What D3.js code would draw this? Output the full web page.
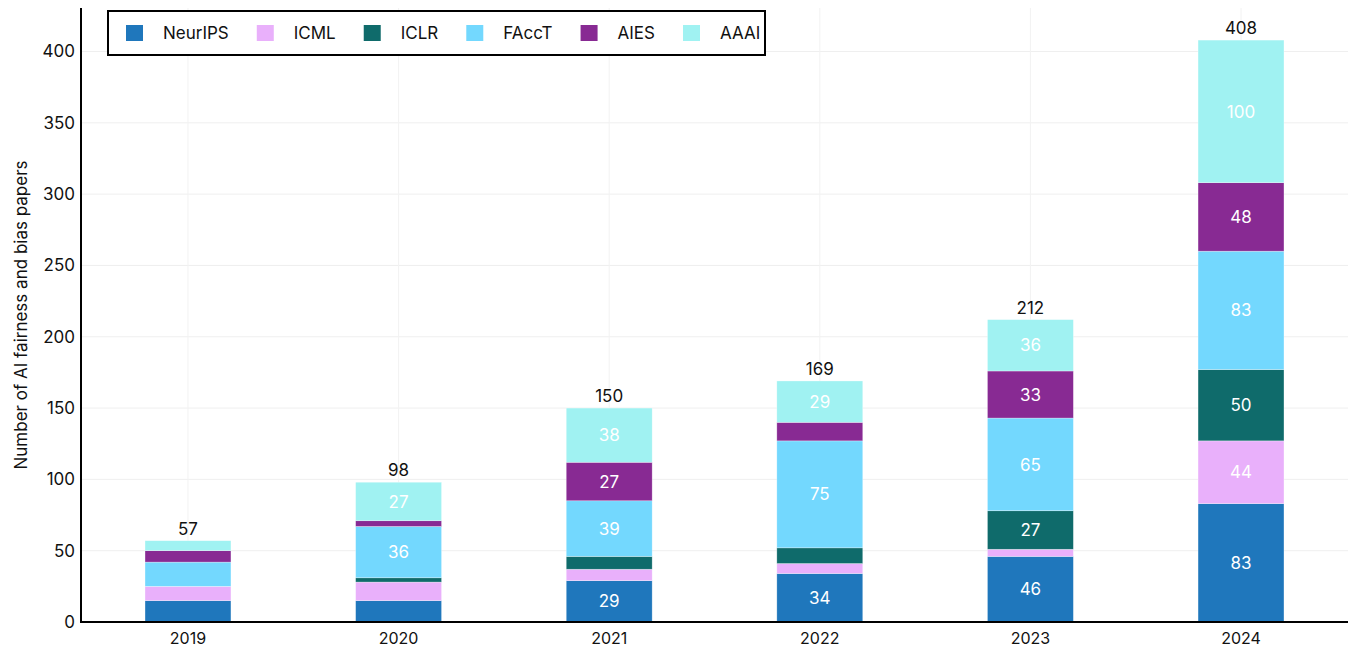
<!DOCTYPE html>
<html>
<head>
<meta charset="utf-8">
<script src="https://cdn.jsdelivr.net/npm/d3@7"></script>
<style>
  html, body { margin: 0; padding: 0; background: #fff; }
  svg { display: block; font-family: Inter, "Liberation Sans", sans-serif; }
</style>
</head>
<body>
<svg id="chart" width="1351" height="651"></svg>
<script>
// Papers on AI fairness and bias, by venue and year
const years = ["2019", "2020", "2021", "2022", "2023", "2024"];
const venues = ["NeurIPS", "ICML", "ICLR", "FAccT", "AIES", "AAAI"];
const neurips = [15, 15, 29, 34, 46, 83];
const icml    = [10, 13, 8, 7, 5, 44];
const iclr    = [0, 3, 9, 11, 27, 50];
const facct   = [17, 36, 39, 75, 65, 83];
const aies    = [8, 4, 27, 13, 33, 48];
const aaai    = [7, 27, 38, 29, 36, 100];
const yTicks  = [0, 50, 100, 150, 200, 250, 300, 350, 400];
const colors  = ["#1f77bc", "#e9b0fb", "#0f6b6b", "#73d8fe", "#882a93", "#a0f2f2"];

const seriesValues = [neurips, icml, iclr, facct, aies, aaai];
const rows = years.map((yr, i) => {
  const r = { year: yr };
  venues.forEach((v, j) => { r[v] = seriesValues[j][i]; });
  return r;
});
const totals = years.map((yr, i) => d3.sum(seriesValues, s => s[i]));

const svg = d3.select("#chart");
const plotL = 81, plotR = 1348, plotT = 8, plotB = 622;

const x = d3.scaleBand().domain(years).range([plotL, plotR])
  .paddingInner(0.592).paddingOuter(0.304);
const y = d3.scaleLinear().domain([0, 430.5]).range([plotB, plotT]);

const layers = d3.stack().keys(venues)(rows);
const color = d3.scaleOrdinal().domain(venues).range(colors);

// grid
const grid = svg.append("g");
grid.selectAll("line.h").data(yTicks.slice(1)).join("line")
  .attr("x1", plotL).attr("x2", plotR)
  .attr("y1", d => y(d)).attr("y2", d => y(d))
  .attr("stroke", "#efefef").attr("stroke-width", 1);
grid.selectAll("line.v").data(years).join("line")
  .attr("x1", d => x(d) + x.bandwidth() / 2).attr("x2", d => x(d) + x.bandwidth() / 2)
  .attr("y1", plotT).attr("y2", plotB)
  .attr("stroke", "#f2f2f2").attr("stroke-width", 1);

// stacked bars
const g = svg.append("g");
layers.forEach(layer => {
  g.append("g").attr("fill", color(layer.key))
    .selectAll("rect").data(layer.filter(d => d[1] - d[0] > 0)).join("rect")
    .attr("x", d => x(d.data.year))
    .attr("width", x.bandwidth())
    .attr("y", d => y(d[1]))
    .attr("height", d => y(d[0]) - y(d[1]))
    .attr("stroke", "rgba(255,255,255,0.5)").attr("stroke-width", 0.6);
});

// segment value labels
layers.forEach(layer => {
  g.append("g").selectAll("text").data(layer.filter(d => d[1] - d[0] >= 20)).join("text")
    .attr("x", d => x(d.data.year) + x.bandwidth() / 2)
    .attr("y", d => (y(d[0]) + y(d[1])) / 2)
    .attr("dy", "0.36em")
    .attr("text-anchor", "middle")
    .attr("fill", "#fff")
    .attr("font-size", 17)
    .text(d => d[1] - d[0]);
});

// totals above bars
g.append("g").selectAll("text").data(years).join("text")
  .attr("x", d => x(d) + x.bandwidth() / 2)
  .attr("y", (d, i) => y(totals[i]) - 6)
  .attr("text-anchor", "middle")
  .attr("fill", "#111")
  .attr("font-size", 17)
  .text((d, i) => totals[i]);

// axes
const yAxis = svg.append("g").attr("transform", `translate(${plotL},0)`)
  .call(d3.axisLeft(y).tickValues(yTicks).tickSize(0).tickPadding(6));
yAxis.select(".domain").remove();
yAxis.selectAll("text").attr("font-size", 17).attr("fill", "#111")
  .style("font-family", "Inter, sans-serif");

const xAxis = svg.append("g").attr("transform", `translate(0,${plotB})`)
  .call(d3.axisBottom(x).tickSize(0).tickPadding(11));
xAxis.select(".domain").remove();
xAxis.selectAll("text").attr("font-size", 16).attr("fill", "#111")
  .style("font-family", "Inter, sans-serif");

svg.append("line").attr("x1", plotL).attr("x2", plotL).attr("y1", plotT).attr("y2", plotB + 1)
  .attr("stroke", "#000").attr("stroke-width", 2);
svg.append("line").attr("x1", plotL - 1).attr("x2", plotR).attr("y1", plotB).attr("y2", plotB)
  .attr("stroke", "#000").attr("stroke-width", 2);

// y label
svg.append("text")
  .attr("transform", `translate(27,${(plotT + plotB) / 2}) rotate(-90)`)
  .attr("text-anchor", "middle")
  .attr("font-size", 17)
  .attr("fill", "#111")
  .text("Number of AI fairness and bias papers");

// legend
const legend = svg.append("g");
legend.append("rect").attr("x", 108).attr("y", 11).attr("width", 657).attr("height", 44)
  .attr("fill", "#fff").attr("stroke", "#000").attr("stroke-width", 2);
let lx = 126;
venues.forEach(v => {
  legend.append("rect").attr("x", lx).attr("y", 25).attr("width", 17).attr("height", 16)
    .attr("fill", color(v));
  const t = legend.append("text").attr("x", lx + 37).attr("y", 33).attr("dy", "0.36em")
    .attr("font-size", 17).attr("fill", "#111").text(v);
  lx += 37 + t.node().getComputedTextLength() + 28;
});
</script>
</body>
</html>
